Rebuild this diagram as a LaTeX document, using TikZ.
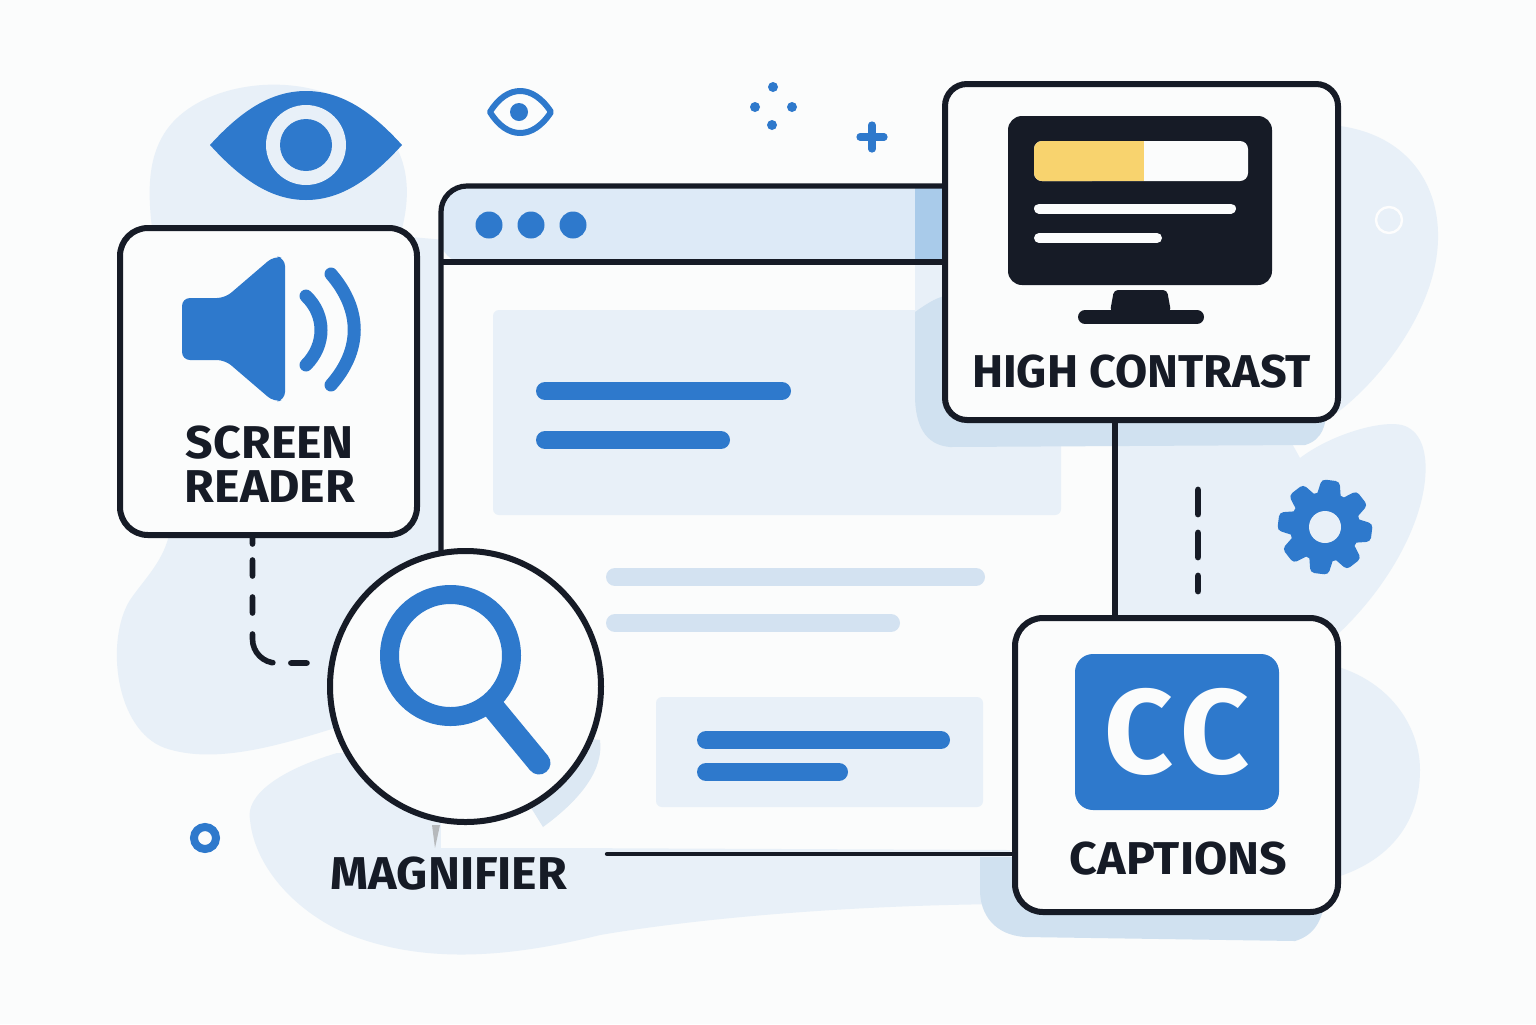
\documentclass[tikz,border=0pt]{standalone}
\usepackage{fontspec}
\setmainfont{Fira Sans}
\definecolor{paper}{HTML}{FBFCFC}
\definecolor{ink}{HTML}{161B26}
\definecolor{accent}{HTML}{2E79CC}
\definecolor{blob}{HTML}{E8F0F8}
\definecolor{cardshade}{HTML}{D0E1F0}
\definecolor{softshade}{HTML}{DCE8F3}
\definecolor{softbar}{HTML}{D3E2F1}
\definecolor{titlebar}{HTML}{DDEAF7}
\definecolor{titleedge}{HTML}{A9CBEA}
\definecolor{marker}{HTML}{F8D36E}
\tikzset{
  card/.style={draw=ink, line width=3pt, fill=paper, rounded corners=14pt, inner sep=0pt},
  caption/.style={font=\bfseries\fontsize{23}{24}\selectfont, text=ink, inner sep=0pt, xscale=1.05},
  wire/.style={draw=ink, line width=2.6pt},
  blueline/.style={line width=9pt, accent, line cap=round},
  softline/.style={line width=9pt, softbar, line cap=round},
  whiteline/.style={line width=5pt, paper, line cap=round}
}
\begin{document}
\begin{tikzpicture}[x=0.5pt, y=-0.5pt]
    \useasboundingbox (0, 0) rectangle (1536, 1024);
    \fill[paper] (0, 0) rectangle (1536, 1024);
    % Blobs behind everything
    \fill[blob] (152, 228) .. controls (145, 170) and (150, 120) .. (215, 95) .. controls (260, 78) and (330, 78) .. (380, 125) .. controls (410, 155) and (412, 195) .. (400, 236) -- (445, 240) -- (445, 550) -- (335, 728) .. controls (280, 745) and (215, 765) .. (165, 748) .. controls (115, 730) and (105, 640) .. (130, 600) .. controls (145, 578) and (165, 560) .. (170, 530) -- cycle;
    \fill[blob] (250, 820) .. controls (245, 795) and (280, 770) .. (337, 753) -- (560, 760) -- (545, 835) .. controls (545, 845) and (550, 848) .. (560, 848) -- (1010, 850) -- (1010, 904) .. controls (850, 905) and (700, 918) .. (600, 935) .. controls (500, 960) and (420, 962) .. (350, 935) .. controls (300, 915) and (255, 870) .. (250, 820) -- cycle;
    \fill[blob] (1300, 125) .. controls (1390, 118) and (1440, 170) .. (1438, 240) .. controls (1436, 310) and (1380, 380) .. (1338, 412) -- (1300, 412) -- cycle;
    \fill[blob] (1118, 440) -- (1118, 640) -- (1338, 634) .. controls (1385, 590) and (1420, 530) .. (1425, 480) .. controls (1428, 450) and (1420, 430) .. (1402, 425) .. controls (1380, 420) and (1330, 435) .. (1300, 458) -- (1290, 440) -- cycle;
    \fill[blob] (1300, 660) .. controls (1380, 665) and (1420, 720) .. (1420, 770) .. controls (1420, 830) and (1380, 875) .. (1300, 885) -- cycle;
    % Browser window
    \fill[paper] (441, 186) rectangle (1000, 848);
    \fill[titlebar, rounded corners=11pt] (441, 186) -- (942, 186) -- (942, 262) -- (441, 262) -- cycle;
    \fill[titleedge] (915, 188) rectangle (945, 260);
    % Panels and bars in the window
    \fill[blob, rounded corners=3pt] (493, 310) rectangle (1061, 515);
    \fill[blob, rounded corners=3pt] (656, 697) rectangle (983, 807);
    \draw[blueline] (545, 391) -- (782, 391);
    \draw[blueline] (545, 440) -- (721, 440);
    \draw[softline] (615, 577) -- (976, 577);
    \draw[softline] (615, 623) -- (891, 623);
    \draw[blueline] (706, 740) -- (941, 740);
    \draw[blueline] (706, 772) -- (839, 772);
    % Card shadows
    \fill[blob] (915, 265) rectangle (945, 310);
    \fill[cardshade] (915, 312) .. controls (925, 305) and (935, 298) .. (945, 296) -- (945, 400) -- (1326, 400) .. controls (1328, 425) and (1322, 440) .. (1305, 445) -- (950, 447) .. controls (925, 445) and (915, 425) .. (915, 395) -- cycle;
    \fill[cardshade] (980, 857) -- (1020, 857) -- (1020, 900) -- (1325, 900) .. controls (1322, 920) and (1315, 935) .. (1295, 941) -- (1025, 937) .. controls (995, 935) and (980, 915) .. (980, 890) -- cycle;
    \fill[softshade] (560, 735) -- (600, 740) .. controls (604, 770) and (580, 800) .. (543, 827) -- (520, 790) -- cycle;
    % Window outline
    \coordinate (windowfoot) at (441, 560);
    \coordinate (windowend) at (945, 186);
    \draw[wire, rounded corners=13pt] (windowfoot) -- (441, 186) -- (windowend);
    \draw[wire] (441, 262) -- (945, 262);
    \foreach \dotx in {489, 531, 573} {
        \fill[accent] (\dotx, 225) circle (13.5);
    }
    % Free icons
    \fill[accent] (210, 145) .. controls (240, 112) and (270, 91) .. (306, 91) .. controls (342, 91) and (372, 112) .. (402, 145) .. controls (372, 178) and (342, 200) .. (306, 200) .. controls (270, 200) and (240, 178) .. (210, 145) -- cycle;
    \fill[blob] (306, 145) circle (40);
    \fill[accent] (306, 145) circle (26);
    \draw[accent, line width=3pt, line join=round] (490, 112) .. controls (507, 84) and (533, 84) .. (551, 112) .. controls (533, 140) and (507, 140) .. (490, 112) -- cycle;
    \fill[accent] (519, 112) circle (9);
    \foreach \sparkx/\sparky in {773/87, 755/107, 792/107, 772/125} {
        \fill[accent] (\sparkx, \sparky) circle (5);
    }
    \draw[accent, line width=3.6pt, line cap=round] (860, 137) -- (884, 137);
    \draw[accent, line width=3.6pt, line cap=round] (872, 125) -- (872, 149);
    \draw[paper!60!white, line width=1.2pt] (1389, 220) circle (13);
    \draw[accent, line width=4pt] (205, 838) circle (11);
    % Gear
    \foreach \tooth in {-97, -52, ..., 218} {
        \fill[accent, shift={(1325, 527)}, rotate=\tooth, rounded corners=2pt] (26, -13) -- (47, -9) -- (47, 9) -- (26, 13) -- cycle;
    }
    \fill[accent] (1325, 527) circle (35);
    \fill[blob] (1325, 527) circle (16);
    % Connectors between cards
    \coordinate (capsend) at (607, 854);
    \coordinate (gapreader) at (307, 663);
    \coordinate (dashtop) at (1198, 490);
    \coordinate (dashbot) at (1198, 591);
    \draw[wire, line cap=round, line width=2.2pt] (capsend) -- (1020, 854) coordinate (capsfoot);
    \draw[wire] (1115, 415) coordinate (contrastfoot) -- (1115, 625) coordinate (capshead);
    \draw[ink, line width=3.4pt, line cap=round, dash pattern=on 12pt off 9.5pt] (dashtop) -- (dashbot);
    % Cards
    \node[card, minimum width=148.5pt, minimum height=153.5pt] (reader) at (268.5, 381.5) {};
    \node[card, rounded corners=11pt, minimum width=196.5pt, minimum height=168pt] (contrast) at (1141.5, 252) {};
    \node[card, minimum width=161.5pt, minimum height=147pt] (captions) at (1176.5, 765) {};
    \node[card, circle, minimum size=135.5pt] (magnifier) at (465.5, 686.5) {};
    \draw[ink, line width=2.8pt, line cap=round, rounded corners=12pt, dash pattern=on 8pt off 8pt on 8pt off 10.5pt on 8pt off 10.5pt on 19.5pt off 9pt on 9.5pt off 20pt, dash phase=5pt] ([xshift=-8pt]reader.south) |- (gapreader);
    % Speaker
    \fill[accent, rounded corners=4pt] (182, 298) -- (225, 298) -- (274, 256) -- (285, 258) -- (285, 400) -- (274, 402) -- (225, 360) -- (182, 360) -- cycle;
    \draw[accent, line width=6.5pt, line cap=round] (306, 296) .. controls (326, 315) and (326, 345) .. (306, 365);
    \draw[accent, line width=6.5pt, line cap=round] (331, 274) .. controls (362, 310) and (362, 350) .. (331, 385);
    \node[caption] (readera) at (270, 443) {SCREEN};
    \node[caption] (readerb) at (270, 487) {READER};
    % Monitor
    \fill[ink, rounded corners=7pt] (1008, 116) rectangle (1272, 285);
    \fill[paper, rounded corners=4pt] (1034, 141) rectangle (1248, 181);
    \fill[marker, rounded corners=4pt] (1034, 141) rectangle (1100, 181);
    \fill[marker] (1060, 141) rectangle (1144, 181);
    \draw[whiteline] (1039, 208.5) -- (1231, 208.5);
    \draw[whiteline] (1039, 238) -- (1157, 238);
    \fill[ink, rounded corners=2pt] (1114, 290) -- (1167, 290) -- (1171, 312) -- (1110, 312) -- cycle;
    \draw[ink, line width=7pt, line cap=round] (1085, 317) -- (1197, 317);
    \node[caption, xscale=0.967] (contrastlabel) at (1141.5, 371.5) {HIGH CONTRAST};
    % CC
    \node[fill=accent, rounded corners=9pt, minimum width=102pt, minimum height=78pt, inner sep=0pt] (ccbox) at (1177, 732) {};
    \node[text=paper, font=\bfseries\fontsize{60}{60}\selectfont, inner sep=0pt] (cctext) at (ccbox) {C\kern4pt C};
    \node[caption] (captionslabel) at (1178.5, 859) {CAPTIONS};
    % Magnifier
    \draw[accent, line width=9.5pt] (450.5, 655.5) circle (61);
    \draw[accent, line width=11.5pt, line cap=round] (492, 706) -- (539, 763);
    \fill[ink!30!paper] (432, 825) -- (440, 825) -- (435, 848) -- cycle;
    \node[caption] (magnifierlabel) at (449, 874) {MAGNIFIER};
\end{tikzpicture}
\end{document}
